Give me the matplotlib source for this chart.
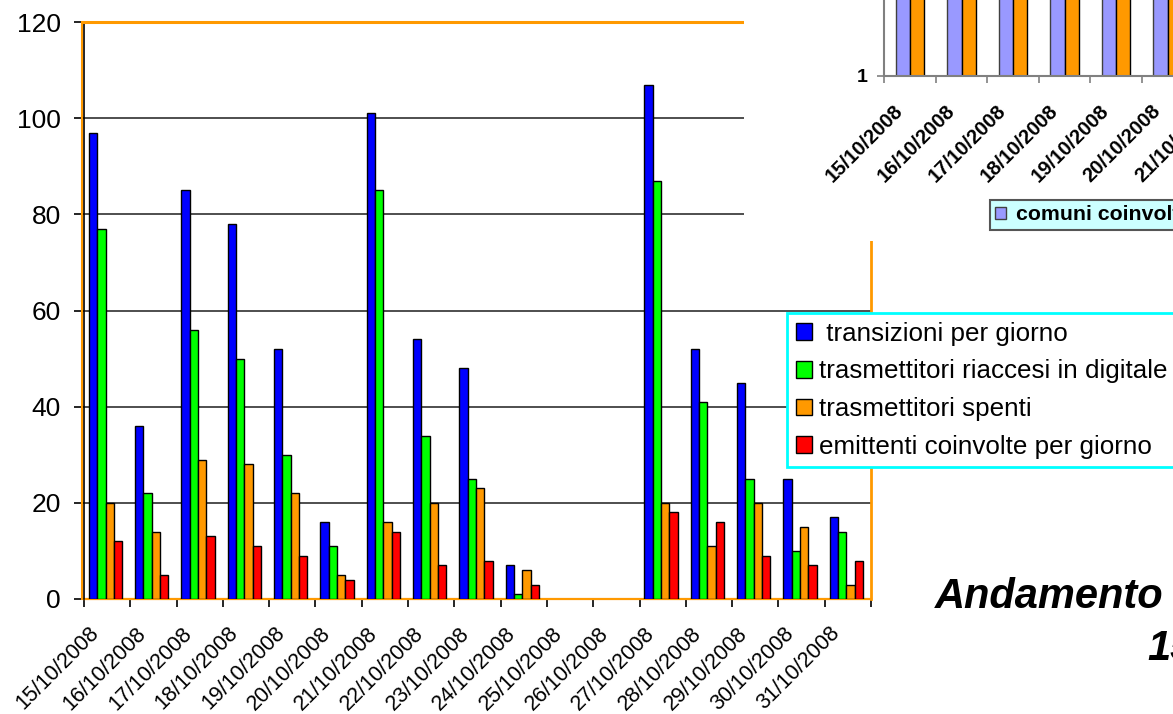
import matplotlib
matplotlib.use('Agg')
import matplotlib.pyplot as plt
import numpy as np
from matplotlib.transforms import ScaledTranslation
from matplotlib.patches import Rectangle, Patch
from matplotlib.ticker import NullLocator, FixedLocator

plt.rcParams['font.family'] = ['Liberation Sans', 'DejaVu Sans']

# ---------------- data ----------------
dates = ['15/10/2008', '16/10/2008', '17/10/2008', '18/10/2008', '19/10/2008',
         '20/10/2008', '21/10/2008', '22/10/2008', '23/10/2008', '24/10/2008',
         '25/10/2008', '26/10/2008', '27/10/2008', '28/10/2008', '29/10/2008',
         '30/10/2008', '31/10/2008']
transizioni = [97, 36, 85, 78, 52, 16, 101, 54, 48, 7, 0, 0, 107, 52, 45, 25, 17]
riaccesi = [77, 22, 56, 50, 30, 11, 85, 34, 25, 1, 0, 0, 87, 41, 25, 10, 14]
spenti = [20, 14, 29, 28, 22, 5, 16, 20, 23, 6, 0, 0, 20, 11, 20, 15, 3]
emittenti = [12, 5, 13, 11, 9, 4, 14, 7, 8, 3, 0, 0, 18, 16, 9, 7, 8]
series_labels = [' transizioni per giorno', 'trasmettitori riaccesi in digitale',
                 'trasmettitori spenti', 'emittenti coinvolte per giorno']
series_colors = ['#0000FF', '#00FF00', '#FF9900', '#FF0000']

# partially visible second chart (top right)
inset_dates = dates[:7]
comuni = [12, 12, 12, 12, 12, 12, 2]
inset_orange = [12, 12, 12, 12, 12, 12, 12]
inset_label = 'comuni coinvolti'

# ---------------- figure ----------------
W, H = 1173, 714
fig = plt.figure(figsize=(W / 100, H / 100), dpi=100)
fig.patch.set_facecolor('white')

def fx(px):
    return px / W

def fy(py):
    return 1 - py / H

ORANGE = '#FF9900'
left, right, top, bottom = 84, 871, 22, 599
ax = fig.add_axes([fx(left), fy(bottom), fx(right - left), (bottom - top) / H])
ax.set_zorder(0)

n = len(dates)
x = np.arange(n)
bw = 0.18
all_series = [transizioni, riaccesi, spenti, emittenti]
handles = []
for i, (vals, col, lab) in enumerate(zip(all_series, series_colors, series_labels)):
    vals = np.asarray(vals)
    lws = [1.0 if v > 0 else 0 for v in vals]
    ax.bar(x - 0.035 + (i - 1.5) * bw, vals, width=bw, color=col,
           edgecolor='black', linewidth=lws, zorder=2)
    handles.append(Patch(facecolor=col, edgecolor='black', linewidth=1.0, label=lab))

ax.set_xlim(-0.5, n - 0.5)
ax.set_ylim(0, 120)
ax.set_yticks(np.arange(0, 121, 20))
ax.yaxis.grid(True, color='#404040', linewidth=1.3)
ax.set_axisbelow(True)

# x ticks: marks at boundaries, labels at centres
ax.xaxis.set_major_locator(FixedLocator(np.arange(-0.5, n, 1.0)))
ax.set_xticklabels([])
ax.set_xticks(x, minor=True)
ax.set_xticklabels(dates, minor=True, rotation=45, ha='right', va='center',
                   rotation_mode='anchor', fontsize=15.5)
ax.tick_params(axis='x', which='major', length=6, width=1.2, color='black', direction='out')
ax.tick_params(axis='x', which='minor', length=0, pad=22.5)
offs = ScaledTranslation(-11 / 100, 0, fig.dpi_scale_trans)
for lab in ax.xaxis.get_minorticklabels():
    lab.set_transform(lab.get_transform() + offs)
ax.tick_params(axis='y', length=7.2, width=1.2, pad=9.4, labelsize=19, color='black')

for s in ['top', 'right', 'bottom']:
    ax.spines[s].set_color(ORANGE)
ax.spines['top'].set_linewidth(2.2)
ax.spines['right'].set_linewidth(2.0)
ax.spines['bottom'].set_linewidth(1.6)
ax.spines['bottom'].set_zorder(1.5)
ax.spines['left'].set_color('black')
ax.spines['left'].set_linewidth(1.2)
# orange plot-area border just left of the black value axis
ax.plot([0, 0], [0, 1], transform=ax.transAxes + ScaledTranslation(-2 / 100, 0, fig.dpi_scale_trans),
        color=ORANGE, linewidth=1.5, clip_on=False, zorder=3)

leg = ax.legend(handles=handles, loc='upper left', bbox_to_anchor=(fx(787), fy(313)),
                bbox_transform=fig.transFigure, borderaxespad=0, fontsize=18.7,
                frameon=True, fancybox=False, framealpha=1, facecolor='white',
                edgecolor='#00FFFF', borderpad=0.33, labelspacing=0.53,
                handlelength=0.62, handleheight=0.62, handletextpad=0.27)
leg.get_frame().set_linewidth(2.0)

# ---------------- second (overlapping) chart ----------------
bg = Rectangle((fx(744), fy(241)), fx(W - 744), 241 / H, transform=fig.transFigure,
               facecolor='white', edgecolor='none', zorder=1)
fig.add_artist(bg)

x0, step, base = 884.3, 51.5, 75.7
ax2 = fig.add_axes([fx(x0), fy(base), fx(n * step), 300 / H])
ax2.set_zorder(2)
xi = np.arange(len(inset_dates))
bw2 = 0.28
ax2.bar(xi - bw2 / 2, comuni, width=bw2, color='#9999FF', edgecolor='#404040', linewidth=1.0)
ax2.bar(xi + bw2 / 2, inset_orange, width=bw2, color=ORANGE, edgecolor='black', linewidth=1.0)
ax2.set_yscale('log')
ax2.set_ylim(1, 100)
ax2.set_xlim(-0.5, n - 0.5)
ax2.yaxis.set_major_locator(FixedLocator([1]))
ax2.yaxis.set_minor_locator(NullLocator())
ax2.set_yticklabels(['1'], fontsize=14, fontweight='bold')
ax2.tick_params(axis='y', length=5, width=1.2, color='#808080', pad=7)
ax2.xaxis.set_major_locator(FixedLocator(np.arange(-0.5, n, 1.0)))
ax2.set_xticklabels([])
ax2.set_xticks(np.arange(n), minor=True)
ax2.set_xticklabels(dates, minor=True, rotation=45, ha='right', va='center',
                    rotation_mode='anchor', fontsize=14.5, fontweight='bold')
ax2.tick_params(axis='x', which='major', length=5, width=1.2, color='#808080', direction='out')
ax2.tick_params(axis='x', which='minor', length=0, pad=23)
offs2 = ScaledTranslation(-10 / 100, 0, fig.dpi_scale_trans)
for lab in ax2.xaxis.get_minorticklabels():
    lab.set_transform(lab.get_transform() + offs2)
for s in ['top', 'right']:
    ax2.spines[s].set_visible(False)
for s in ['left', 'bottom']:
    ax2.spines[s].set_color('#808080')
    ax2.spines[s].set_linewidth(1.5)

leg2 = ax2.legend(handles=[Patch(facecolor='#9999FF', edgecolor='#404040', label=inset_label)],
                  loc='upper left', bbox_to_anchor=(fx(990), fy(200)),
                  bbox_transform=fig.transFigure, borderaxespad=0,
                  prop={'size': 15.3, 'weight': 'bold'}, frameon=True, fancybox=False,
                  framealpha=1, facecolor='#CCFFFF', edgecolor='#555555',
                  borderpad=0.25, handlelength=0.5, handleheight=0.5, handletextpad=0.45)
leg2.get_frame().set_linewidth(1.5)

# ---------------- slide title fragments ----------------
fig.text(fx(935), fy(608), 'Andamento', fontsize=30, fontweight='bold', fontstyle='italic',
         ha='left', va='baseline', zorder=5)
fig.text(fx(1147), fy(660), '15', fontsize=30, fontweight='bold', fontstyle='italic',
         ha='left', va='baseline', zorder=5)

fig.savefig('out.png', dpi=100)
